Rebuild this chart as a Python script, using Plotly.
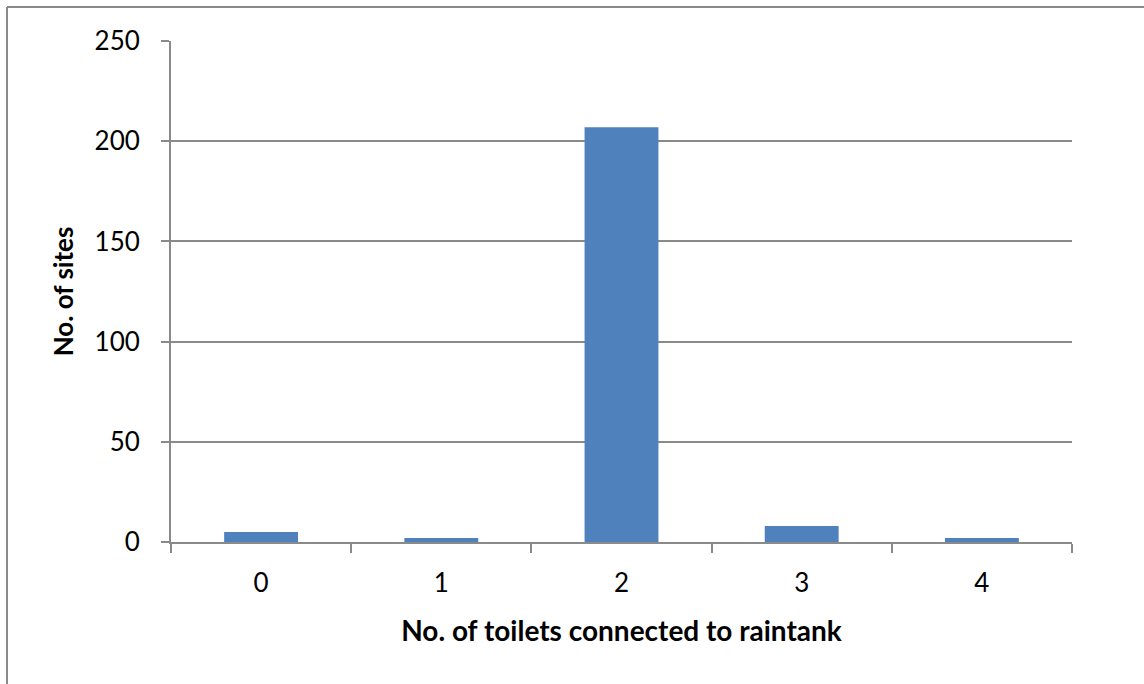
import plotly.graph_objects as go

# Number of toilets plumbed to the rain tank, and how many sites have each count
toilets = ["0", "1", "2", "3", "4"]
sites = [5, 2, 207, 8, 2]

y_ticks = [0, 50, 100, 150, 200, 250]

W, H = 1144, 684
L, R, T, B = 171, 72, 41, 142
pw, ph = W - L - R, H - T - B

axis_grey = "#8a8a8a"
font_family = "Lato, 'Open Sans', sans-serif"

fig = go.Figure(
    go.Bar(
        x=toilets,
        y=sites,
        marker=dict(color="#4f81bd", line=dict(color="#4f81bd", width=0)),
        hoverinfo="x+y",
    )
)

fig.update_layout(
    width=W,
    height=H,
    margin=dict(l=L, r=R, t=T, b=B),
    paper_bgcolor="white",
    plot_bgcolor="white",
    bargap=0.59,
    showlegend=False,
    font=dict(family=font_family, size=26, color="black"),
)

fig.update_xaxes(
    type="category",
    showline=True,
    linecolor=axis_grey,
    linewidth=2,
    ticks="outside",
    tickson="boundaries",
    ticklen=9,
    tickwidth=2,
    tickcolor=axis_grey,
    showgrid=False,
    tickfont=dict(size=26),
    ticklabelstandoff=17,
    title=dict(
        text="<b>No. of toilets connected to raintank</b>",
        font=dict(size=28),
        standoff=24,
    ),
)

fig.update_yaxes(
    range=[0, 250],
    tickvals=y_ticks,
    showline=True,
    linecolor=axis_grey,
    linewidth=2,
    ticks="outside",
    ticklen=8,
    tickwidth=2,
    tickcolor=axis_grey,
    showgrid=True,
    gridcolor=axis_grey,
    gridwidth=1.5,
    zeroline=False,
    tickfont=dict(size=26),
    ticklabelstandoff=16,
    title=dict(text="<b>No. of sites</b>", font=dict(size=26), standoff=13),
)

# Chart-area frame: top and left edges, running off the page to the right and bottom
def px_x(px):
    return (px - L) / pw

def px_y(py):
    return 1 - (py - T) / ph

frame = dict(type="line", xref="paper", yref="paper",
             line=dict(color=axis_grey, width=2), layer="above")
fig.add_shape(**frame, x0=px_x(7), y0=px_y(7), x1=px_x(W + 5), y1=px_y(7))
fig.add_shape(**frame, x0=px_x(7), y0=px_y(7), x1=px_x(7), y1=px_y(H + 5))

fig.write_html("out.html")
